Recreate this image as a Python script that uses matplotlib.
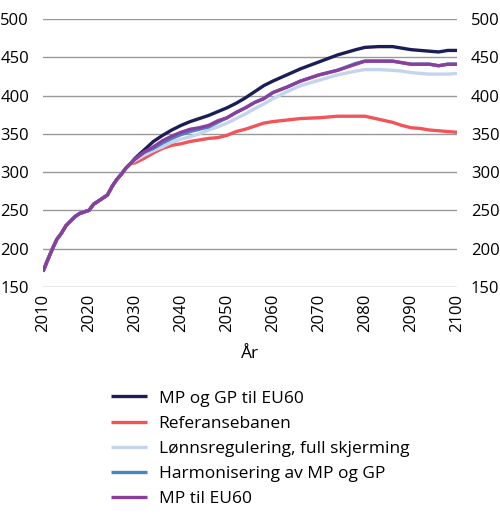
import numpy as np
import matplotlib
matplotlib.use('Agg')
import matplotlib.pyplot as plt

# år (felles for alle seriene)
years = [2010, 2011, 2012, 2013, 2014, 2015, 2016, 2017, 2018, 2019,
         2020, 2021, 2022, 2023, 2024, 2025, 2026, 2027, 2028, 2029,
         2030, 2032, 2034, 2036, 2038, 2040, 2042, 2044, 2046, 2048,
         2050, 2052, 2054, 2056, 2058, 2060, 2063, 2066, 2070, 2074,
         2078, 2080, 2083, 2086, 2088, 2090, 2092, 2094, 2096, 2098, 2100]

# felles startbane 2010-2029
start = [170, 185, 199, 212, 220, 230, 236, 242, 246, 248,
         250, 258, 262, 266, 270, 281, 290, 297, 305, 311]

mp_gp_eu60 = start + [318, 329, 340, 348, 355, 361, 366, 370, 374, 379,
                      384, 390, 397, 405, 413, 419, 427, 435, 444, 453,
                      460, 463, 464, 464, 462, 460, 459, 458, 457, 459, 459]
referanse = start + [312, 318, 325, 331, 335, 337, 340, 342, 344, 345,
                     348, 353, 356, 360, 364, 366, 368, 370, 371, 373,
                     373, 373, 369, 365, 361, 358, 357, 355, 354, 353, 352]
lonnsreg = start + [315, 322, 328, 333, 339, 343, 346, 350, 355, 359,
                    364, 370, 376, 383, 389, 396, 405, 413, 420, 427,
                    432, 434, 434, 433, 432, 430, 429, 428, 428, 428, 429]
harmonisering = start + [317, 326, 331, 338, 344, 349, 353, 356, 359, 365,
                         371, 378, 384, 391, 396, 404, 411, 419, 427, 433,
                         442, 445, 445, 445, 443, 441, 441, 441, 439, 441, 441]
mp_eu60 = start + [317, 326, 333, 341, 347, 352, 356, 358, 361, 367,
                   371, 378, 384, 391, 396, 404, 411, 419, 427, 433,
                   441, 445, 445, 445, 443, 441, 441, 441, 439, 441, 441]

labels = ['MP og GP til EU60', 'Referansebanen',
          'Lønnsregulering, full skjerming', 'Harmonisering av MP og GP',
          'MP til EU60']
colors = ['#1b1d57', '#f0555a', '#c5d4ee', '#4a84c8', '#8b3f9c']

plt.rcParams['font.family'] = ['Open Sans', 'DejaVu Sans']

fig = plt.figure(figsize=(5.0, 5.15), dpi=100)
ax = fig.add_axes([0.086, 0.443, 0.828, 0.52])

for serie, lab, col in zip([mp_gp_eu60, referanse, lonnsreg, harmonisering, mp_eu60],
                           labels, colors):
    ax.plot(years, serie, color=col, lw=2.4, label=lab, solid_capstyle='butt')

ax.set_xlim(2010, 2100)
ax.set_ylim(150, 500)
ax.set_xticks(np.arange(2010, 2101, 10))
ax.set_yticks(np.arange(150, 501, 50))
ax.tick_params(axis='x', labelrotation=90, length=0, labelsize=12, pad=5)
ax.tick_params(axis='y', length=0, labelsize=12, pad=10,
               labelright=True, right=False)
ax.grid(axis='y', color='#999999', lw=1)
ax.set_axisbelow(True)
for s in ax.spines.values():
    s.set_visible(False)
ax.set_xlabel('År', fontsize=12.5, labelpad=10)

fig.legend(loc='upper left', bbox_to_anchor=(0.222, 0.242), frameon=False,
           fontsize=12.5, handlelength=2.1, handletextpad=0.65,
           labelspacing=0.52, borderpad=0, borderaxespad=0)

fig.savefig('out.png', dpi=100)
